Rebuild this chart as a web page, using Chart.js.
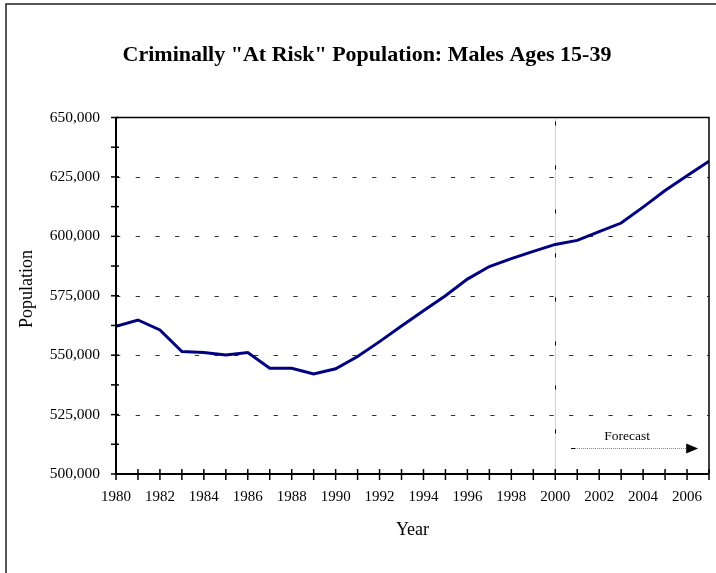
<!DOCTYPE html>
<html>
<head>
<meta charset="utf-8">
<title>Criminally "At Risk" Population: Males Ages 15-39</title>
<script src="https://cdn.jsdelivr.net/npm/chart.js@4.4.1/dist/chart.umd.min.js"></script>
<style>
  html, body { margin: 0; padding: 0; background: #fff; }
  #wrap { width: 716px; height: 573px; }
</style>
</head>
<body>
<div id="wrap"><canvas id="myChart" width="716" height="573"></canvas></div>
<script>
// males 15-39, actual through 2000 then projected
const years = [1980, 1981, 1982, 1983, 1984, 1985, 1986, 1987, 1988, 1989,
               1990, 1991, 1992, 1993, 1994, 1995, 1996, 1997, 1998, 1999,
               2000, 2001, 2002, 2003, 2004, 2005, 2006, 2007];
const population = [562100, 564800, 560600, 551500, 551100, 550100, 551100, 544500, 544500, 542100,
                    544300, 549400, 555700, 562300, 568700, 575000, 582000, 587300, 590600, 593700,
                    596600, 598300, 602000, 605600, 612300, 619300, 625500, 631600];
const forecastStart = 2000;
const yearLabelStep = 2;
const popLabelStep = 25000;

const serif = "'Liberation Serif', 'Times New Roman', serif";
Chart.defaults.font.family = serif;
Chart.defaults.color = '#000';

// axes, tick marks, dashed grid, forecast marker and outer frame
const chartDecor = {
  id: 'chartDecor',
  beforeDatasetsDraw(chart) {
    const { ctx, chartArea: a, scales: { x, y } } = chart;
    ctx.save();
    ctx.strokeStyle = '#333';
    ctx.lineWidth = 1;
    ctx.setLineDash([4.3, 15.4]);
    y.ticks.forEach(t => {
      if (t.value % popLabelStep !== 0 || t.value === y.min || t.value === y.max) return;
      const py = Math.round(y.getPixelForValue(t.value)) + 0.5;
      ctx.beginPath();
      ctx.moveTo(a.left, py);
      ctx.lineTo(a.right, py);
      ctx.stroke();
    });

    // forecast divider
    const fx = Math.round(x.getPixelForValue(forecastStart)) + 0.5;
    ctx.strokeStyle = '#aaa';
    ctx.setLineDash([1, 1]);
    ctx.beginPath();
    ctx.moveTo(fx, a.top + 2);
    ctx.lineTo(fx, a.bottom);
    ctx.stroke();
    ctx.strokeStyle = '#000';
    ctx.setLineDash([4, 40]);
    ctx.beginPath();
    ctx.moveTo(fx, a.top + 4);
    ctx.lineTo(fx, a.bottom);
    ctx.stroke();
    ctx.restore();
  },
  afterDatasetsDraw(chart) {
    const { ctx, chartArea: a, scales: { x, y } } = chart;
    ctx.save();
    ctx.strokeStyle = '#000';

    // top and right border
    ctx.lineWidth = 1.5;
    ctx.beginPath();
    ctx.moveTo(a.left, a.top);
    ctx.lineTo(a.right, a.top);
    ctx.lineTo(a.right, a.bottom);
    ctx.stroke();

    // axis lines
    ctx.lineWidth = 2;
    ctx.beginPath();
    ctx.moveTo(a.left, a.top);
    ctx.lineTo(a.left, a.bottom);
    ctx.lineTo(a.right, a.bottom);
    ctx.stroke();

    // tick marks crossing the axes
    ctx.lineWidth = 1.5;
    y.ticks.forEach(t => {
      const py = y.getPixelForValue(t.value);
      ctx.beginPath();
      ctx.moveTo(a.left - 5, py);
      ctx.lineTo(a.left + 3, py);
      ctx.stroke();
    });
    x.ticks.forEach(t => {
      const px = x.getPixelForValue(t.value);
      ctx.beginPath();
      ctx.moveTo(px, a.bottom - 5);
      ctx.lineTo(px, a.bottom + 6);
      ctx.stroke();
    });

    // forecast arrow
    const ax0 = x.getPixelForValue(2000.72);
    const ax1 = x.getPixelForValue(2005.96);
    const ay = Math.round(y.getPixelForValue(511000)) + 0.5;
    ctx.lineWidth = 1;
    ctx.strokeStyle = '#888';
    ctx.setLineDash([1, 1]);
    ctx.beginPath();
    ctx.moveTo(ax0, ay);
    ctx.lineTo(ax1, ay);
    ctx.stroke();
    ctx.setLineDash([]);
    ctx.strokeStyle = '#000';
    ctx.beginPath();
    ctx.moveTo(ax0, ay);
    ctx.lineTo(ax0 + 4, ay);
    ctx.stroke();
    ctx.fillStyle = '#000';
    ctx.beginPath();
    ctx.moveTo(ax1, ay - 5);
    ctx.lineTo(ax1 + 12, ay);
    ctx.lineTo(ax1, ay + 5);
    ctx.closePath();
    ctx.fill();

    ctx.font = '13.5px ' + serif;
    ctx.textAlign = 'center';
    ctx.textBaseline = 'middle';
    ctx.fillText('Forecast', x.getPixelForValue(2003.27), y.getPixelForValue(515700));

    // axis titles
    ctx.font = '18px ' + serif;
    ctx.fillText('Year', (a.left + a.right) / 2, 530);
    ctx.translate(27, 289);
    ctx.rotate(-Math.PI / 2);
    ctx.fillText('Population', 0, 0);
    ctx.restore();

    // outer frame
    ctx.save();
    ctx.strokeStyle = '#222';
    ctx.lineWidth = 1.5;
    ctx.beginPath();
    ctx.moveTo(6, 573);
    ctx.lineTo(6, 4);
    ctx.lineTo(716, 4);
    ctx.stroke();
    ctx.restore();
  }
};

const ctx = document.getElementById('myChart');

new Chart(ctx, {
  type: 'line',
  data: {
    datasets: [{
      label: 'Population',
      data: years.map((yr, i) => ({ x: yr, y: population[i] })),
      borderColor: '#000080',
      borderWidth: 3,
      pointRadius: 0,
      tension: 0,
      fill: false
    }]
  },
  plugins: [chartDecor],
  options: {
    responsive: false,
    animation: false,
    devicePixelRatio: 1,
    layout: { padding: { left: 25, right: 7, top: 0, bottom: 0 } },
    scales: {
      x: {
        type: 'linear',
        min: 1980,
        max: 2007,
        grid: { display: false, drawTicks: false },
        border: { display: false },
        afterFit(scale) {
          scale.height = 99;
          scale.paddingLeft = 0;
          scale.paddingRight = 0;
        },
        ticks: {
          stepSize: 1,
          autoSkip: false,
          maxRotation: 0,
          padding: 14,
          font: { size: 15 },
          callback: v => (v % yearLabelStep === 0 ? String(v) : '')
        }
      },
      y: {
        min: 500000,
        max: 650000,
        grid: { display: false, drawTicks: false },
        border: { display: false },
        afterFit(scale) {
          scale.width = 91;
          scale.paddingTop = 0;
          scale.paddingBottom = 0;
        },
        ticks: {
          stepSize: 12500,
          autoSkip: false,
          padding: 16,
          font: { size: 15.5 },
          callback: v => (v % popLabelStep === 0 ? v.toLocaleString('en-US') : '')
        }
      }
    },
    plugins: {
      legend: { display: false },
      tooltip: { enabled: false },
      title: {
        display: true,
        text: 'Criminally "At Risk" Population: Males Ages 15-39',
        color: '#000',
        font: { size: 22, weight: 'bold' },
        padding: { top: 42.3, bottom: 48.8 }
      }
    }
  }
});
</script>
</body>
</html>
